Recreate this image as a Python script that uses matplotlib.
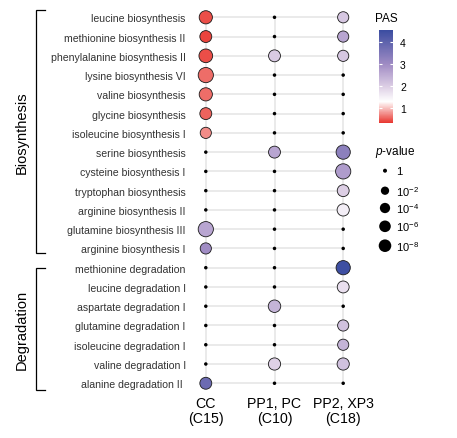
import numpy as np
import matplotlib
matplotlib.use("Agg")
import matplotlib.pyplot as plt
from matplotlib.colors import LinearSegmentedColormap, Normalize

plt.rcParams['font.family'] = ['Liberation Sans', 'DejaVu Sans']
plt.rcParams['mathtext.fontset'] = 'custom'
plt.rcParams['mathtext.rm'] = 'Liberation Sans'
plt.rcParams['mathtext.it'] = 'Liberation Sans:italic'

# pathways (top to bottom)
pathways = [
    "leucine biosynthesis", "methionine biosynthesis II", "phenylalanine biosynthesis II",
    "lysine biosynthesis VI", "valine biosynthesis", "glycine biosynthesis",
    "isoleucine biosynthesis I", "serine biosynthesis", "cysteine biosynthesis I",
    "tryptophan biosynthesis", "arginine biosynthesis II", "glutamine biosynthesis III",
    "arginine biosynthesis I",
    "methionine degradation", "leucine degradation I", "aspartate degradation I",
    "glutamine degradation I", "isoleucine degradation I", "valine degradation I",
    "alanine degradation II ",
]
groups = ["Biosynthesis"] * 13 + ["Degradation"] * 7
clusters = ["CC\n(C15)", "PP1, PC\n(C10)", "PP2, XP3\n(C18)"]

nan = np.nan
# PAS per pathway, one list per cluster (nan = not enriched)
pas_cc = [0.45, 0.4, 0.45, 0.6, 0.6, 0.55, 0.75, nan, nan, nan, nan, 2.6, 3.0,
          nan, nan, nan, nan, nan, nan, 3.8]
pas_pp1 = [nan, nan, 2.05, nan, nan, nan, nan, 2.6, nan, nan, nan, nan, nan,
           nan, nan, 2.4, nan, nan, 1.95, nan]
pas_pp2 = [2.1, 2.6, 2.1, nan, nan, nan, nan, 3.3, 2.75, 2.0, 1.55, nan, nan,
           4.5, 1.75, nan, 2.2, 2.4, 2.2, nan]

# -log10(p) per pathway
nlp_cc = [9.6, 6.6, 11, 16.7, 9.6, 6.6, 5.3, 0, 0, 0, 0, 16.7, 5.3,
          0, 0, 0, 0, 0, 0, 6.6]
nlp_pp1 = [0, 0, 6.6, 0, 0, 0, 0, 6.6, 0, 0, 0, 0, 0,
           0, 0, 7.8, 0, 0, 7.2, 0]
nlp_pp2 = [5.3, 5.3, 5.3, 0, 0, 0, 0, 12.7, 16.7, 6.6, 7.2, 0, 0,
           12.7, 6.6, 0, 5.3, 5.3, 7.2, 0]

legend_nlp = [0, 2, 4, 6, 8]
legend_labels = ["1", "10$^{-2}$", "10$^{-4}$", "10$^{-6}$", "10$^{-8}$"]

W, H, DPI = 457, 439, 100


def size_px(nlp):
    return 4 + 3.9 * np.log1p(np.asarray(nlp, dtype=float))


def s_pt2(d_px):
    return (np.asarray(d_px) * 72 / DPI) ** 2


cmap = LinearSegmentedColormap.from_list("pas", [
    (0.0, "#E8362F"),
    ((1.3 - 0.33) / (4.57 - 0.33), "#FFFFFF"),
    ((2.0 - 0.33) / (4.57 - 0.33), "#DCCDE4"),
    ((3.0 - 0.33) / (4.57 - 0.33), "#A08CC4"),
    (1.0, "#3A4CA0"),
])
norm = Normalize(vmin=0.33, vmax=4.57)

fig = plt.figure(figsize=(W / DPI, H / DPI), dpi=DPI)


def px_box(x0, y0, x1, y1):
    return [x0 / W, 1 - y1 / H, (x1 - x0) / W, (y1 - y0) / H]


ax = fig.add_axes(px_box(190, 8.67, 359, 393.9))
ax.set_xlim(-0.23, 2.23)
ax.set_ylim(19.5, -0.5)
for s in ax.spines.values():
    s.set_visible(False)

rows = np.arange(len(pathways))
for i in rows:
    ax.plot([0, 2], [i, i], color="#E4E4E4", lw=1.1, zorder=1)
for j in range(3):
    ax.plot([j, j], [0, rows[-1]], color="#E4E4E4", lw=1.1, zorder=1)

for j, (pas, nlp) in enumerate([(pas_cc, nlp_cc), (pas_pp1, nlp_pp1), (pas_pp2, nlp_pp2)]):
    pas = np.array(pas, dtype=float)
    nlp = np.array(nlp, dtype=float)
    sig = ~np.isnan(pas)
    ax.scatter(np.full(sig.sum(), j), rows[sig], s=s_pt2(size_px(nlp[sig])),
               c=pas[sig], cmap=cmap, norm=norm, edgecolors="#1a1a1a",
               linewidths=0.6, zorder=3, clip_on=False)
    ax.scatter(np.full((~sig).sum(), j), rows[~sig], s=s_pt2(size_px(nlp[~sig]) - 0.5),
               color="black", linewidths=0, zorder=3, clip_on=False)

ax.set_xticks(range(3))
ax.set_xticklabels(clusters, fontsize=10.2, color="black", linespacing=1.15)
ax.set_yticks(rows)
ax.set_yticklabels(pathways, fontsize=7.6, color="#333333")
ax.tick_params(axis="both", length=0)
ax.tick_params(axis="y", pad=3)
ax.tick_params(axis="x", pad=2)

# group brackets
overlay = fig.add_axes([0, 0, 1, 1])
overlay.set_xlim(0, W)
overlay.set_ylim(H, 0)
overlay.axis("off")
for name, (y0, y1) in zip(["Biosynthesis", "Degradation"], [(11, 254.3), (269.3, 391)]):
    overlay.plot([45, 36, 36, 45], [y0, y0, y1, y1], color="black", lw=0.9,
                 solid_joinstyle="miter")
    overlay.text(22, (y0 + y1) / 2, name, rotation=90, ha="center", va="center",
                 fontsize=10.5, color="black")

# colorbar
cax = fig.add_axes(px_box(379, 30.7, 393, 124))
sm = plt.cm.ScalarMappable(norm=norm, cmap=cmap)
cb = fig.colorbar(sm, cax=cax, ticks=[1, 2, 3, 4])
cb.outline.set_visible(False)
cax.tick_params(axis="y", direction="in", length=2.5, width=0.8, colors="white",
                labelcolor="black", labelsize=7.5, pad=5, left=True)
overlay.text(375, 19, "PAS", fontsize=8.5, ha="left", va="center")

# p-value legend
overlay.text(375, 152, "$p$-value", fontsize=8.5, ha="left", va="center")
leg_y = [171.7, 191.7, 209, 227.3, 246.7]
overlay.scatter([385] * len(legend_nlp), leg_y, s=s_pt2(size_px(legend_nlp)),
                color="black", linewidths=0)
for y, lab in zip(leg_y, legend_labels):
    overlay.text(396, y, lab, fontsize=8, ha="left", va="center")

fig.savefig("out.png", dpi=DPI)
